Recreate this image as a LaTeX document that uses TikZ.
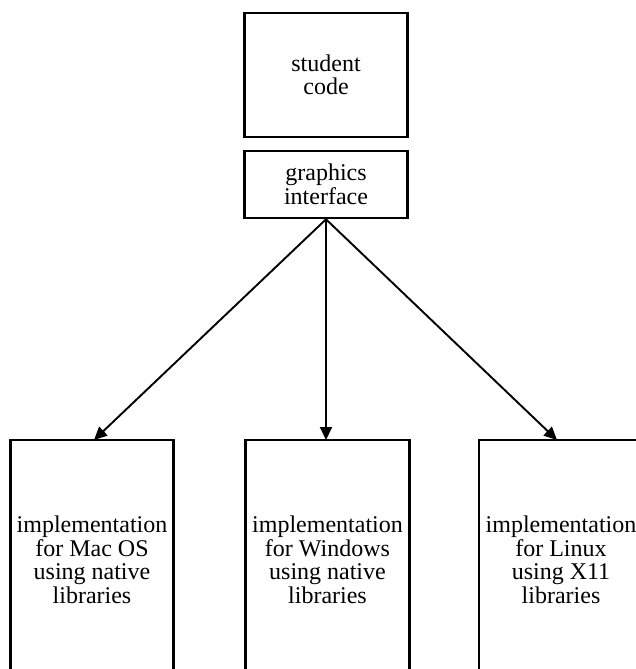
\documentclass[tikz,border=0pt]{standalone}
\usepackage{fontspec}
\setmainfont{Liberation Serif}
\usetikzlibrary{arrows.meta}
\begin{document}
\begin{tikzpicture}[x=1pt,y=-1pt,
  box/.style={draw=black,line width=2.6pt,fill=white,align=center,inner sep=0pt,
    font=\fontsize{24}{23.5}\selectfont},
  conn/.style={line width=1.9pt,-{Triangle[length=13pt,width=12pt]}}]
\useasboundingbox[fill=white] (0,0) rectangle (636,669);
\begin{scope}
\clip (0,0) rectangle (636,669);
\node[box,minimum width=163pt,minimum height=124pt] (sc) at (326,75) {student\\code};
\node[box,minimum width=163.5pt,minimum height=67pt] (gi) at (326,184.5) {graphics\\interface};
\node[box,minimum width=163.5pt,minimum height=240pt] (mac) at (92,560) {implementation\\for Mac OS\\using native\\libraries};
\node[box,minimum width=163.5pt,minimum height=240pt] (win) at (327.5,560) {implementation\\for Windows\\using native\\libraries};
\node[box,minimum width=170pt,minimum height=240pt] (lin) at (564,560) {};
\node[font=\fontsize{24}{23.5}\selectfont,align=center,inner sep=0pt] (lintext) at (561,560) {implementation\\for Linux\\using X11\\libraries};
\draw[conn] (gi.south) -- ([xshift=2pt,yshift=-1.3pt]mac.north);
\draw[conn] (gi.south) -- ([yshift=-1.3pt]win.north -| gi.south);
\draw[conn] (gi.south) -- ([xshift=-7pt,yshift=-1.3pt]lin.north);
\end{scope}
\end{tikzpicture}
\end{document}
